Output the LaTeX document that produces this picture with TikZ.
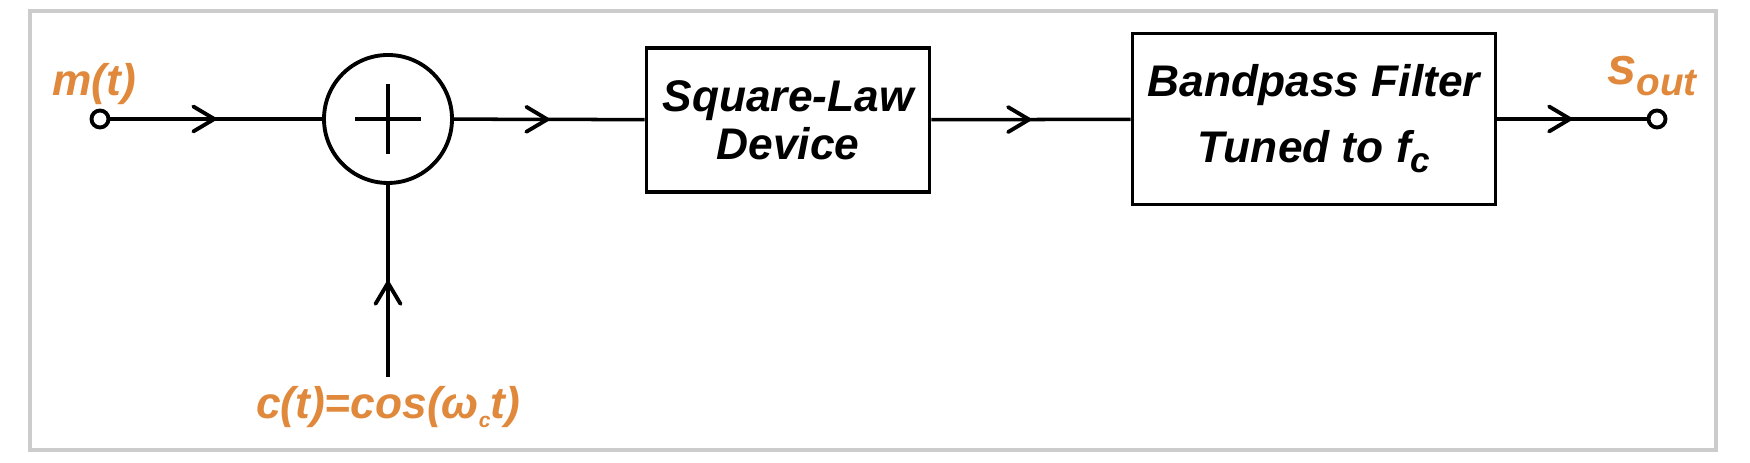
\documentclass[tikz,border=0pt]{standalone}
\usepackage{fontspec}
\setmainfont{Liberation Sans}
\usetikzlibrary{positioning,arrows.meta,decorations.markings}
\definecolor{lblorange}{RGB}{224,137,60}
\definecolor{framegray}{RGB}{204,204,204}

\begin{document}
\begin{tikzpicture}[x=1cm,y=1cm]
        \tikzstyle{block}=[draw,line width=1.1pt,align=center,inner sep=0pt,font=\fontsize{12.6}{13.7}\selectfont\bfseries\itshape]
        \tikzstyle{terminal}=[circle,draw,fill=white,line width=1.1pt,minimum size=0.17cm,inner sep=0pt]
        \tikzstyle{summer}=[circle,draw,line width=1.1pt,minimum size=1.28cm,inner sep=0pt]
        \tikzstyle{signal}=[line width=1pt,postaction={decorate},decoration={markings,mark=at position 0.5 with {\arrow{Straight Barb[length=2.1mm,width=2.5mm,line width=1.1pt,round]}}}]
        \tikzstyle{annot}=[text=lblorange,inner sep=0pt,font=\fontsize{12.6}{14}\selectfont\bfseries\itshape]

        \useasboundingbox (0,0) rectangle (17.5,4.63);
        \draw[framegray,line width=1.1pt] (0.30,0.13) rectangle (17.16,4.52);

        % Signal path
        \node[terminal] (in) at (1.00,3.44) {};
        \node[summer] (sum) at (3.88,3.44) {};
        \node[block,minimum width=2.83cm,minimum height=1.44cm] (sqd) at (7.88,3.43) {Square-Law\\Device};
        \node[block,minimum width=3.63cm,minimum height=1.71cm] (bpf) at (13.14,3.44) {Bandpass Filter\\[5pt]Tuned to f\raisebox{-0.45ex}{\fontsize{10}{10}\selectfont c}};
        \node[terminal] (out) at (16.57,3.44) {};
        \coordinate (carrier) at (3.88,0.86);

        % Plus sign
        \draw[line width=1pt] ([xshift=-0.33cm]sum.center) -- ([xshift=0.33cm]sum.center);
        \draw[line width=1pt] ([yshift=-0.35cm]sum.center) -- ([yshift=0.35cm]sum.center);

        % Connect nodes
        \foreach \src/\dst in {in/sum,sum/sqd,sqd/bpf,bpf/out,carrier/sum}
            \draw[signal] (\src) -- (\dst);

        % Annotate the signals
        \node[annot] (mlbl) at (0.94,3.79) {m(t)};
        \node[annot] (clbl) at (3.88,0.56) {c(t)=cos(ω\raisebox{-0.4ex}{\fontsize{6}{6}\selectfont c}t)};
        \node[annot] (slbl) at (16.52,3.87) {{\fontsize{15}{15}\selectfont s}\raisebox{-0.45ex}{\fontsize{11}{11}\selectfont out}};
\end{tikzpicture}
\end{document}
